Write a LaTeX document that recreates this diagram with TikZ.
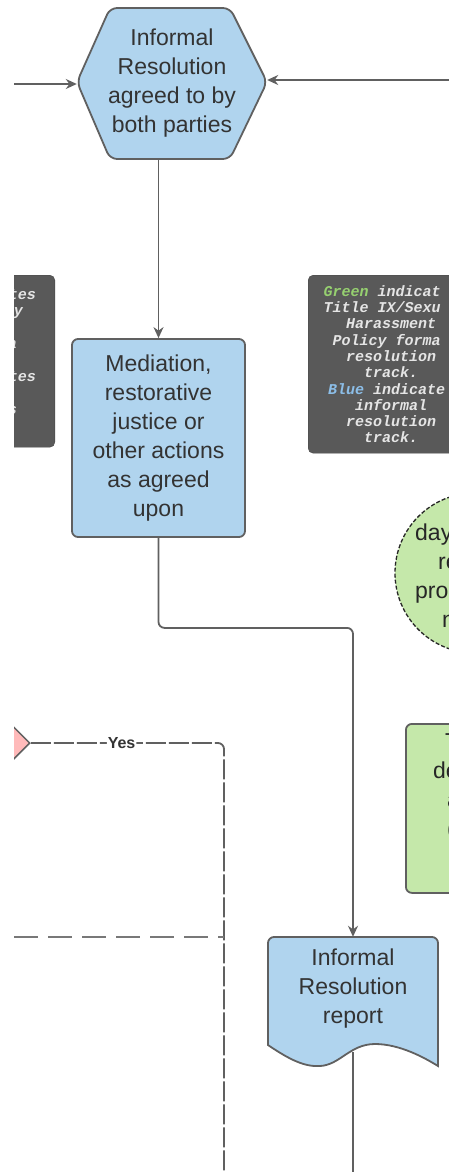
\documentclass[tikz,border=0pt]{standalone}
\usepackage{fontspec}
\setmainfont{Liberation Sans}
\setmonofont{Liberation Mono}
\usetikzlibrary{arrows.meta,shapes.geometric}
\definecolor{infoblue}{RGB}{176,212,238}
\definecolor{formgreen}{RGB}{197,232,170}
\definecolor{keygray}{RGB}{89,89,89}
\definecolor{linegray}{RGB}{96,96,96}
\definecolor{decpink}{RGB}{255,186,186}
\definecolor{txtgray}{RGB}{51,51,51}
\definecolor{keygreen}{RGB}{150,208,112}
\definecolor{keyblue}{RGB}{140,190,232}
\newcommand{\lparen}{(}
\tikzset{
  flow/.style={draw=linegray,line width=1.8pt},
  boxline/.style={draw=linegray,line width=1.8pt},
  bigtxt/.style={font=\fontsize{23}{29}\selectfont,text=txtgray,align=center},
  keytxt/.style={font=\ttfamily\itshape\bfseries\fontsize{15}{16.3}\selectfont,text=white!90!black,align=center},
  keybox/.style={fill=keygray,draw=keygray!80!black,rounded corners=5pt},
  yestxt/.style={font=\bfseries\fontsize{16}{18}\selectfont,text=txtgray,fill=white,inner sep=1pt}
}
\begin{document}
\begin{tikzpicture}[x=1pt,y=-1pt,>={Stealth[length=11pt,width=10pt]}]
\useasboundingbox (0,0) rectangle (449,1172);
\clip (14,0) rectangle (449,1172);
\draw[boxline,fill=infoblue,rounded corners=7pt] (170,8) -- (230,8) -- (267,82) -- (230,159) -- (110,159) -- (77,82) -- (110,8) -- cycle;
\node[bigtxt,minimum width=190pt,minimum height=151pt] (agree) at (172,83.5) {Informal\\Resolution\\agreed to by\\both parties};
\node[bigtxt,boxline,fill=infoblue,rounded corners=6pt,minimum width=173pt,minimum height=198pt] (med) at (158.5,438) {Mediation,\\restorative\\justice or\\other actions\\as agreed\\upon};
\draw[boxline,fill=infoblue] (268,1045) -- (268,943) to[out=90,in=180] (274,937) -- (432,937) to[out=0,in=90] (438,943) -- (438,1066)
  .. controls (425,1058) and (400,1044) .. (375,1044) .. controls (350,1044) and (340,1065) .. (320,1066) .. controls (305,1067) and (290,1060) .. (268,1045) -- cycle;
\node[bigtxt,minimum width=170pt,minimum height=103pt] (report) at (353,988.5) {Informal\\Resolution\\report};
\node[keybox,anchor=north east,minimum width=120pt,minimum height=172pt] (keyL) at (55,275) {};
\foreach \frag/\x/\y [count=\i] in {tes/36/299,y/23/315,a/17/348,tes/36/381,s/17/414}
\node[keytxt,anchor=base east,inner sep=0pt] (keyL\i) at (\x,\y) {\frag};
\node[keybox,keytxt,anchor=north west,minimum width=166pt,minimum height=178pt] (keyR) at (308,275) {\textcolor{keygreen}{Green} indicat\phantom{es}\\Title IX/Sexu\phantom{al}\\Harassment\\Policy forma\phantom{l}\\resolution\\track.\\\textcolor{keyblue}{Blue} indicate\phantom{s}\\informal\\resolution\\track.};
\node[circle,draw=black!85,line width=1.3pt,dash pattern=on 4pt off 2pt,fill=formgreen,minimum size=160pt] (limit) at (475,573) {};
\foreach \frag/\x/\y [count=\i] in {day/415/540,re/438/569,pro/415/598,n/442/627}
\node[bigtxt,text=black!85,anchor=base west,inner sep=0pt] (limit\i) at (\x,\y) {\frag};
\node[boxline,fill=formgreen,rounded corners=6pt,anchor=north west,minimum width=150pt,minimum height=169pt] (timebox) at (405,723) {};
\foreach \frag/\x/\y [count=\i] in {T/445/749,de/433/778,a/447/807,\lparen/447/836}
\node[bigtxt,text=black!85,anchor=base west,inner sep=0pt] (timebox\i) at (\x,\y) {\frag};
\node[diamond,draw=linegray,line width=1.5pt,fill=decpink,minimum width=80pt,minimum height=80pt,inner sep=0pt] (dec) at (-10,743) {};
\coordinate (fromL) at (14,84);
\coordinate (fromR) at (449,80);
\coordinate (yesturn) at (224,743);
\coordinate (dashin) at (14,937);
\coordinate (rptout) at (353,1052);
\draw[flow,->] (fromL) -- (fromL -| agree.west);
\draw[flow,->] (fromR) -- (fromR -| agree.east);
\draw[flow,->] (med.north |- agree.south) -- (med.north);
\draw[flow,->,rounded corners=6pt] (med.south) -- ++(0,90) -| (report.north);
\draw[flow] (rptout) -- ++(0,130);
\draw[flow,dash pattern=on 20pt off 3pt,rounded corners=6pt] (dec.east) -- node[yestxt,pos=0.47] (yes) {Yes} (yesturn) -- ++(0,440);
\draw[flow,draw=linegray!85,dash pattern=on 24pt off 10pt] (dashin) -- (dashin -| yesturn);
\end{tikzpicture}
\end{document}
